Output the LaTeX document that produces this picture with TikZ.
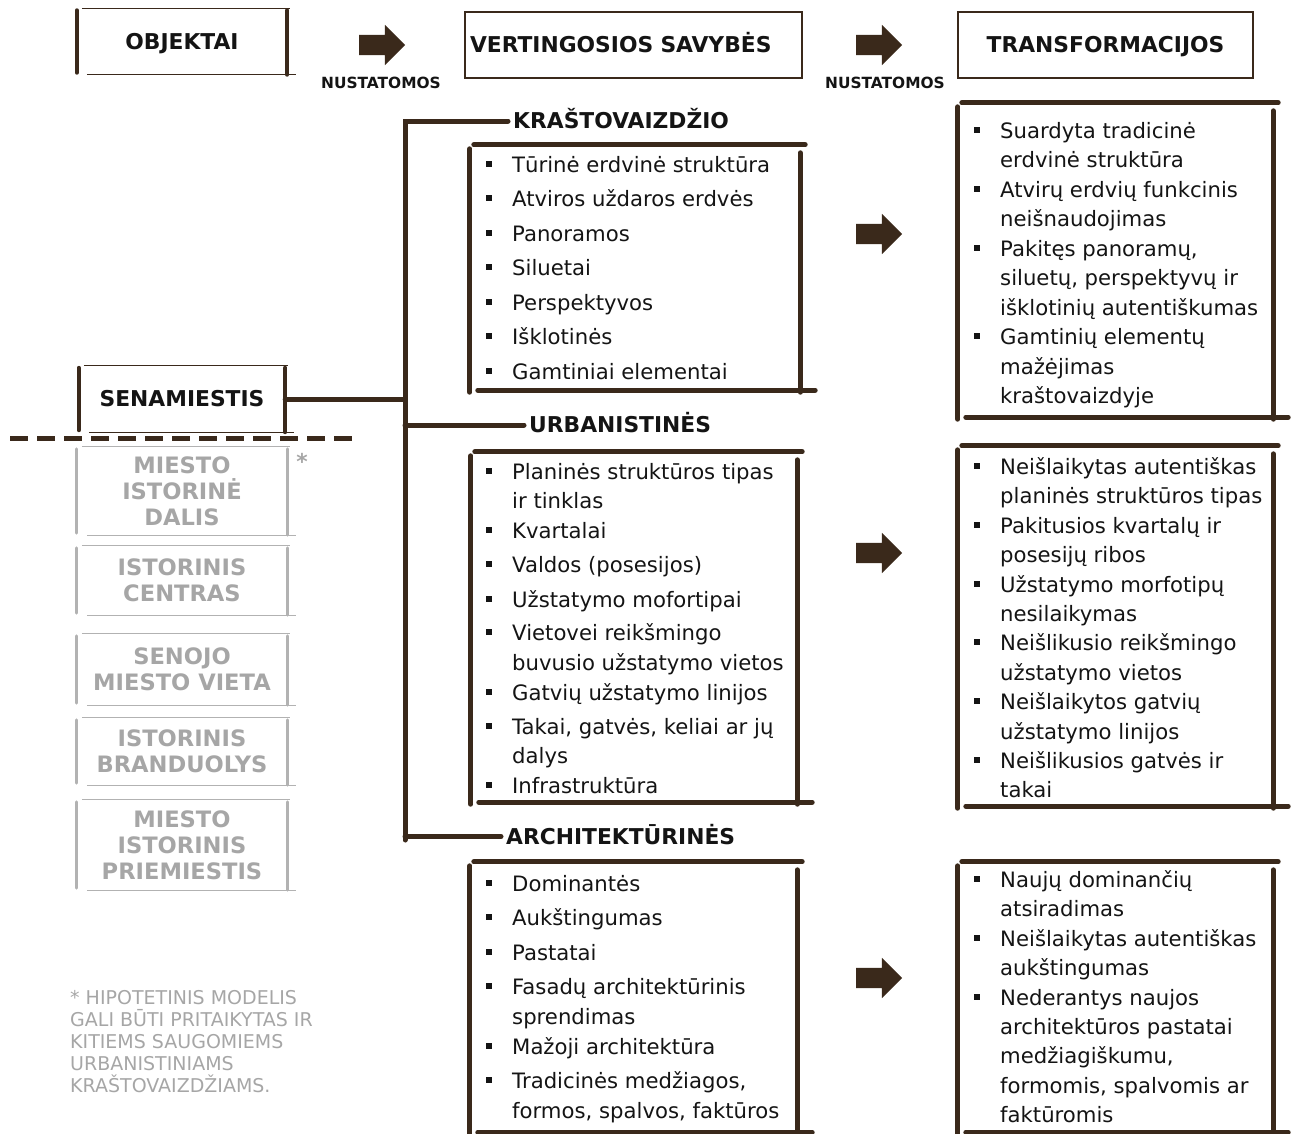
\documentclass[tikz,border=0pt]{standalone}
\usepackage{fontspec}
\setmainfont{DejaVu Sans}
\usetikzlibrary{shapes.arrows}

\definecolor{bark}{RGB}{58,41,27}
\definecolor{ink}{RGB}{20,20,20}
\definecolor{ash}{RGB}{166,166,166}
\definecolor{ashline}{RGB}{178,178,178}

\newcommand{\hdfont}{\fontsize{21.8}{26}\selectfont\bfseries}
\newcommand{\gryfont}{\fontsize{22.6}{26}\selectfont\bfseries}
\newcommand{\lstfont}{\fontsize{21.2}{29}\selectfont}
\newcommand{\lblfont}{\fontsize{15.4}{18}\selectfont\bfseries}
\newcommand{\ftnfont}{\fontsize{19}{22}\selectfont}

% box with heavy side posts and light top/bottom rules
\newcommand{\sidebox}[3]{%
  \draw[#3] ([xshift=5pt]#1.north west) -- ([xshift=3pt]#1.north east);
  \draw[#3] ([xshift=10pt]#1.south west) -- ([xshift=9pt]#1.south east);
  \draw[#2] ([yshift=-2pt]#1.north west) -- ([yshift=2pt]#1.south west);
  \draw[#2] ([yshift=-2pt]#1.north east) -- (#1.south east);}
% hand drawn heavy frame round a list
\newcommand{\skframe}[1]{%
  \draw[bar] ([xshift=4pt]#1.north west) -- ([xshift=5pt]#1.north east);
  \draw[bar] ([yshift=-4pt]#1.north west) -- ([yshift=-2pt]#1.south west);
  \draw[bar] ([yshift=-8pt]#1.north east) -- ([yshift=-2pt]#1.south east);
  \draw[bar] ([xshift=8pt]#1.south west) -- ([xshift=15pt]#1.south east);}

\begin{document}
\begin{tikzpicture}[x=1pt, y=-1pt,
    bar/.style={draw=bark, line width=5pt, line cap=round},
    post/.style={draw=bark, line width=4pt, line cap=round},
    rule/.style={draw=bark, line width=1.3pt},
    greybar/.style={draw=ashline, line width=3pt, line cap=round},
    greyrule/.style={draw=ashline, line width=1.2pt},
    cutline/.style={draw=bark, line width=5pt, dash pattern=on 18pt off 9pt},
    topbox/.style={minimum height=66pt, inner sep=0pt, text=ink, font=\hdfont,
        text height=15pt, text depth=0pt},
    grey/.style={minimum width=210pt, inner sep=0pt, text=ash, font=\gryfont, align=center},
    sect/.style={anchor=base west, inner xsep=5pt, inner ysep=0pt, text=ink, font=\hdfont,
        text height=15pt, text depth=0pt},
    lbl/.style={inner sep=0pt, text=ink, font=\lblfont, text height=11pt, text depth=0pt},
    itm/.style={anchor=base west, inner sep=0pt, text=ink, font=\lstfont},
    bul/.style={fill=ink},
    listbox/.style={inner sep=0pt},
    barrow/.style={single arrow, fill=bark, draw=none, inner sep=0pt, text height=10pt,
        text depth=10pt, minimum height=46pt, single arrow head extend=10pt}
]
    \useasboundingbox (0,0) rectangle (1296,1133);

    % header row
    \node[topbox, minimum width=210pt] (obj) at (182,41.5) {OBJEKTAI};
    \sidebox{obj}{post}{rule}
    \node[barrow] (ar1) at (377,45) {};
    \node[lbl] (ns1) at (381,83) {NUSTATOMOS};
    \node[topbox, draw=bark, line width=1.3pt, text width=327pt, inner xsep=5pt, align=left]
        (val) at (633.5,45) {VERTINGOSIOS SAVYBĖS};
    \node[barrow] (ar2) at (874,45) {};
    \node[lbl] (ns2) at (885,83) {NUSTATOMOS};
    \node[topbox, draw=bark, line width=1.3pt, minimum width=295pt] (trf) at (1105.5,45) {TRANSFORMACIJOS};

    % objects column
    \node[topbox, minimum width=206pt] (sen) at (182,399) {SENAMIESTIS};
    \sidebox{sen}{post}{rule}
    \draw[cutline] (10,438) -- (355,438);
    \foreach \n/\y/\h/\t in {g1/491/88/{MIESTO\\ISTORINĖ\\DALIS}, g2/580.5/69/{ISTORINIS\\CENTRAS},
        g3/669.5/71/{SENOJO\\MIESTO VIETA}, g4/751.5/67/{ISTORINIS\\BRANDUOLYS},
        g5/845/90/{MIESTO\\ISTORINIS\\PRIEMIESTIS}} {
        \node[grey, minimum height=\h] (\n) at (182,\y) {\t};
        \sidebox{\n}{greybar}{greyrule}
    }
    \node[text=ash, font=\hdfont, inner sep=0pt] (star) at (302,461) {*};
    \node[anchor=north west, align=left, inner sep=0pt, text=ash, font=\ftnfont] (fn) at (70,990)
        {* HIPOTETINIS MODELIS\\GALI BŪTI PRITAIKYTAS IR\\KITIEMS SAUGOMIEMS\\URBANISTINIAMS\\KRAŠTOVAIZDŽIAMS.};

    % section headings and tree
    \node[sect] (hk) at (508,128.5) {KRAŠTOVAIZDŽIO};
    \node[sect] (hu) at (524,432.5) {URBANISTINĖS};
    \node[sect] (ha) at (501,844) {ARCHITEKTŪRINĖS};
    \coordinate (tr2) at (405,840);
    \draw[bar] (hk.west) -| (tr2);
    \draw[bar] (sen.east) -- (sen.east -| tr2);
    \draw[bar] (hu.west -| tr2) -- (hu.west);
    \draw[bar] (ha.west -| tr2) -- (ha.west);

    % value lists
    \node[listbox, minimum width=330pt, minimum height=245pt] (m1) at (635,267.5) {};
    \node[listbox, minimum width=326pt, minimum height=350pt] (m2) at (634,627) {};
    \node[listbox, minimum width=327pt, minimum height=270pt] (m3) at (633.5,997) {};
    \foreach \b in {m1,m2,m3} {\skframe{\b}}
    \foreach \y/\t [count=\i] in {172/Tūrinė erdvinė struktūra, 206/Atviros uždaros erdvės,
        241/Panoramos, 275/Siluetai, 310/Perspektyvos, 344/Išklotinės, 379/Gamtiniai elementai}
        \node[itm] (m1-\i) at (512,\y) {\t};
    \foreach \y/\t [count=\i] in {479/Planinės struktūros tipas, 508/ir tinklas, 538/Kvartalai,
        572/Valdos (posesijos), 607/Užstatymo mofortipai, 640/Vietovei reikšmingo,
        670/buvusio užstatymo vietos, 700/Gatvių užstatymo linijos,
        734/{Takai, gatvės, keliai ar jų}, 763/dalys, 793/Infrastruktūra}
        \node[itm] (m2-\i) at (512,\y) {\t};
    \foreach \y/\t [count=\i] in {891/Dominantės, 925/Aukštingumas, 960/Pastatai,
        994/Fasadų architektūrinis, 1024/sprendimas, 1054/Mažoji architektūra,
        1088/{Tradicinės medžiagos,}, 1118/{formos, spalvos, faktūros}}
        \node[itm] (m3-\i) at (512,\y) {\t};
    \foreach \y in {172,206,241,275,310,344,379,479,538,572,607,640,700,734,793,
        891,925,960,994,1054,1088}
        \fill[bul] (485.5,{\y-11.5}) rectangle +(6,6);

    % arrows to transformations
    \node[barrow] (ar3) at (874,234) {};
    \node[barrow] (ar4) at (874,553) {};
    \node[barrow] (ar5) at (874,978) {};

    % transformation lists
    \node[listbox, minimum width=315pt, minimum height=314pt] (r1) at (1115.5,260) {};
    \node[listbox, minimum width=315pt, minimum height=360pt] (r2) at (1115.5,626) {};
    \node[listbox, minimum width=315pt, minimum height=270pt] (r3) at (1115.5,997) {};
    \foreach \b in {r1,r2,r3} {\skframe{\b}}
    \foreach \y/\t [count=\i] in {138/Suardyta tradicinė, 167/erdvinė struktūra,
        197/Atvirų erdvių funkcinis, 226/neišnaudojimas, 256/{Pakitęs panoramų,},
        285/{siluetų, perspektyvų ir}, 315/išklotinių autentiškumas, 344/Gamtinių elementų,
        374/mažėjimas, 403/kraštovaizdyje}
        \node[itm] (r1-\i) at (1000,\y) {\t};
    \foreach \y/\t [count=\i] in {474/Neišlaikytas autentiškas, 503/planinės struktūros tipas,
        533/Pakitusios kvartalų ir, 562/posesijų ribos, 592/Užstatymo morfotipų,
        621/nesilaikymas, 650/Neišlikusio reikšmingo, 680/užstatymo vietos,
        709/Neišlaikytos gatvių, 739/užstatymo linijos, 768/Neišlikusios gatvės ir, 797/takai}
        \node[itm] (r2-\i) at (1000,\y) {\t};
    \foreach \y/\t [count=\i] in {887/Naujų dominančių, 916/atsiradimas,
        946/Neišlaikytas autentiškas, 975/aukštingumas, 1005/Nederantys naujos,
        1034/architektūros pastatai, 1063/{medžiagiškumu,}, 1093/{formomis, spalvomis ar},
        1122/faktūromis}
        \node[itm] (r3-\i) at (1000,\y) {\t};
    \foreach \y in {138,197,256,344,474,533,592,650,709,768,887,946,1005}
        \fill[bul] (973.5,{\y-11.5}) rectangle +(6,6);
\end{tikzpicture}
\end{document}
